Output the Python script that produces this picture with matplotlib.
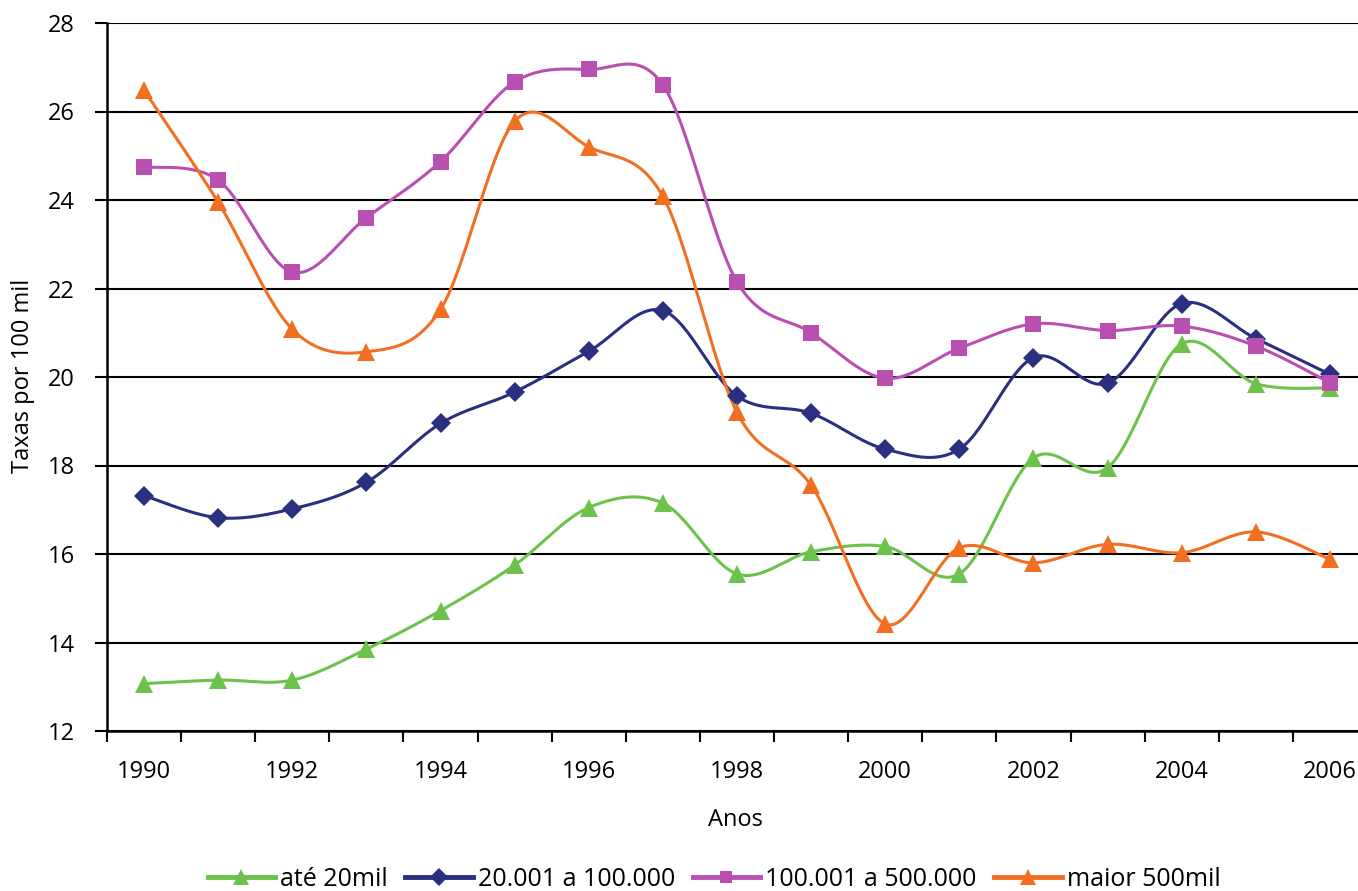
import numpy as np
import matplotlib
matplotlib.use("Agg")
import matplotlib.pyplot as plt
from matplotlib.lines import Line2D

years = list(range(1990, 2007))
tick_labels = [str(y) if (y - 1990) % 2 == 0 else "" for y in years]

ate_20mil = [13.07, 13.15, 13.15, 13.85, 14.72, 15.75, 17.05, 17.15, 15.55,
             16.05, 16.17, 15.55, 18.17, 17.95, 20.75, 19.85, 19.75]
de_20_a_100 = [17.32, 16.82, 17.02, 17.62, 18.95, 19.66, 20.58, 21.5, 19.57,
               19.18, 18.37, 18.37, 20.44, 19.86, 21.66, 20.87, 20.06]
de_100_a_500 = [24.75, 24.45, 22.37, 23.6, 24.87, 26.67, 26.95, 26.6, 22.15,
                21.0, 19.97, 20.65, 21.2, 21.05, 21.15, 20.7, 19.87]
maior_500mil = [26.48, 23.95, 21.08, 20.57, 21.53, 25.78, 25.2, 24.08, 19.2,
                17.55, 14.42, 16.14, 15.8, 16.22, 16.03, 16.5, 15.88]

series = [
    ("até 20mil", ate_20mil, "#6CC24A", "^"),
    ("20.001 a 100.000", de_20_a_100, "#2B2F7F", "D"),
    ("100.001 a 500.000", de_100_a_500, "#B94FB0", "s"),
    ("maior 500mil", maior_500mil, "#F26F22", "^"),
]

plt.rcParams['font.family'] = ['Open Sans', 'DejaVu Sans']


def smooth(x, y, n=30):
    x = np.asarray(x, float)
    y = np.asarray(y, float)
    P = np.column_stack([x, y])
    out = [P[0]]
    t = np.linspace(0, 1, n)[1:]
    for i in range(len(P) - 1):
        p0 = P[i - 1] if i > 0 else P[i]
        p1 = P[i]
        p2 = P[i + 1]
        p3 = P[i + 2] if i + 2 < len(P) else P[i + 1]
        c1 = p1 + (p2 - p0) / 6.0
        c2 = p2 - (p3 - p1) / 6.0
        for tt in t:
            b = ((1 - tt) ** 3) * p1 + 3 * ((1 - tt) ** 2) * tt * c1 + \
                3 * (1 - tt) * tt ** 2 * c2 + tt ** 3 * p2
            out.append(b)
    out = np.array(out)
    return out[:, 0], out[:, 1]


def msize(m):
    return {"D": 10.5, "s": 11, "^": 13}[m]


fig = plt.figure(figsize=(13.58, 8.91), dpi=100)
ax = fig.add_axes([107 / 1358, 1 - 731 / 891, 1260 / 1358, 708 / 891])

xs = np.arange(len(years))
for name, vals, col, mk in series:
    sx, sy = smooth(xs, vals)
    ax.plot(sx, sy, color=col, lw=2.2, zorder=3)
    ax.plot(xs, vals, linestyle="none", marker=mk, color=col, ms=msize(mk),
            markeredgewidth=0, zorder=4)

ax.set_xlim(-0.5, len(years) - 0.5)
ax.set_ylim(12, 28)
ax.set_yticks(np.arange(12, 29, 2))
ax.yaxis.grid(True, color="black", lw=1.5)
ax.set_axisbelow(True)

ax.set_xticks(xs)
ax.set_xticklabels(tick_labels)
ax.set_xticks(np.arange(-0.5, len(years), 1), minor=True)
ax.tick_params(axis="x", which="major", length=0, pad=21, labelsize=17)
ax.tick_params(axis="x", which="minor", length=8, width=1.5, color="black")
ax.tick_params(axis="y", length=9, width=1.5, labelsize=17, pad=14)

for s in ["top", "right"]:
    ax.spines[s].set_visible(False)
for s in ["left", "bottom"]:
    ax.spines[s].set_linewidth(1.8)
    ax.spines[s].set_color("black")

fig.text(23 / 1358, 1 - 376 / 891, "Taxas por 100 mil", rotation=90,
         ha="center", va="center", fontsize=17)
fig.text(735 / 1358, 1 - 820 / 891, "Anos", ha="center", va="center",
         fontsize=17)

handles = [Line2D([0], [0], color=c, lw=3.5, marker=m,
                  ms=msize(m) * 0.85, markeredgewidth=0)
           for _, _, c, m in series]
labels = [s[0] for s in series]
fig.legend(handles, labels, loc="center", bbox_to_anchor=(714 / 1358, 1 - 879 / 891),
           ncol=4, frameon=False, fontsize=18, handlelength=2.7,
           columnspacing=0.7, handletextpad=0.2, borderpad=0, borderaxespad=0)

fig.savefig("out.png", dpi=100)
